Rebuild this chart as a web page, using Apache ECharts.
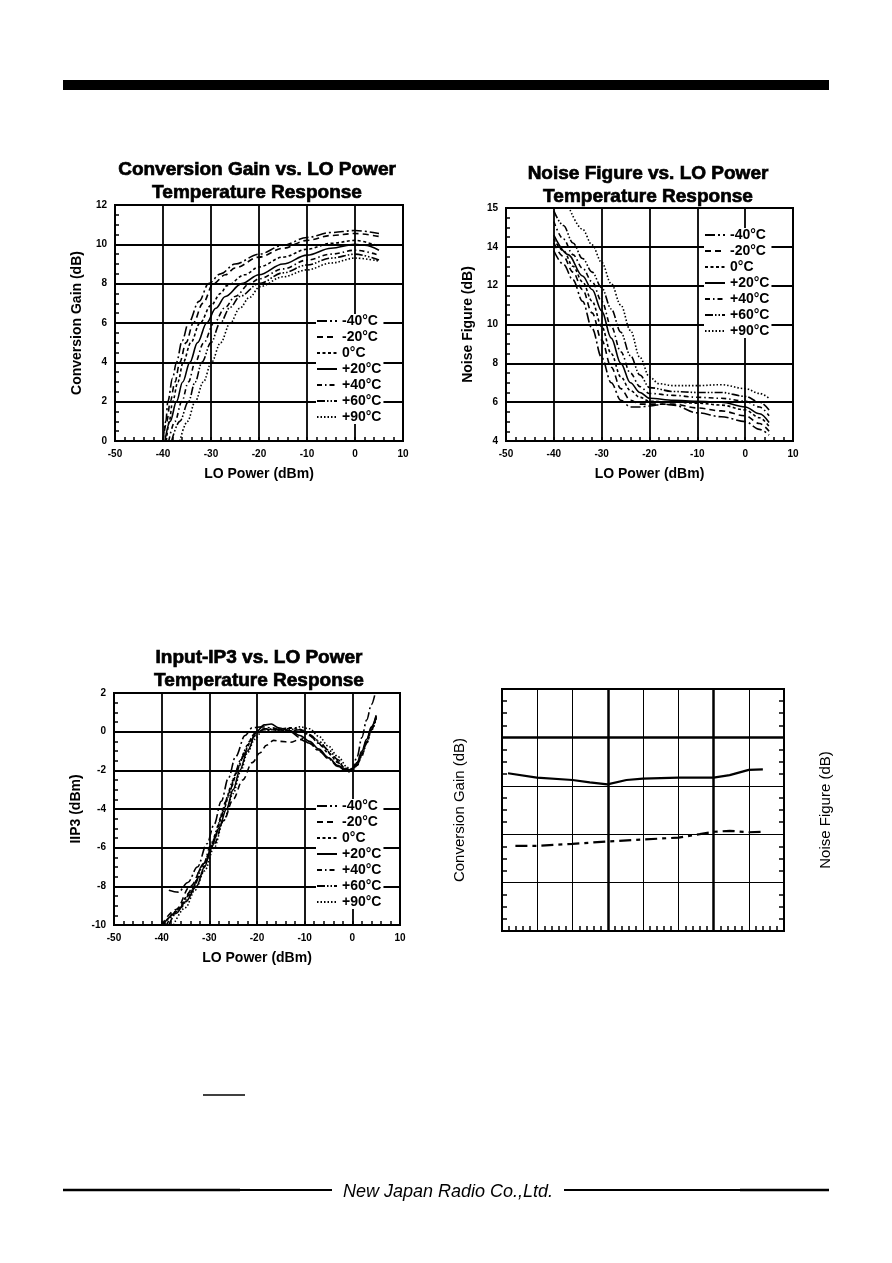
<!DOCTYPE html>
<html><head><meta charset="utf-8">
<script src="https://cdn.jsdelivr.net/npm/echarts@6/dist/echarts.min.js"></script>
<style>html,body{margin:0;padding:0;background:#fff}#c{width:892px;height:1263px}</style>
</head><body><div id="c"></div>
<script>
// ---------- DATA ----------
const tempNames = ['-40°C','-20°C','0°C','+20°C','+40°C','+60°C','+90°C'];
const xTickValues = [-50,-40,-30,-20,-10,0,10];
const nfTickValues = [4,6,8,10,12,14,16];
const nfTickLabels = ['4','6','8','10','12','14','15'];

// Conversion Gain vs LO Power [LO dBm, gain dB]
const cgM40 = [[-40,0],[-39.4,1],[-39,2],[-38,3.2],[-37.2,4],[-36,5.1],[-34.7,6],[-32.5,7.1],[-30.5,8],[-28,8.5],[-25,9.0],[-20,9.5],[-15,9.95],[-10,10.35],[-5,10.6],[0,10.7],[5,10.55]];
const cgM20 = [[-40,0],[-39.2,1],[-38.5,2],[-37.5,3],[-36.5,4],[-35.2,5],[-33.7,6],[-31.7,7],[-29.5,8],[-27,8.45],[-25,8.8],[-20,9.35],[-15,9.8],[-10,10.2],[-5,10.45],[0,10.55],[5,10.4]];
const cg0   = [[-39.3,0],[-38.7,1],[-38,2],[-36.9,3],[-35.8,4],[-34.2,5],[-32.3,6],[-30,6.9],[-28,7.5],[-26.7,7.9],[-23,8.45],[-20,8.85],[-15,9.35],[-10,9.75],[-5,10.05],[0,10.2],[5,9.9]];
const cgP20 = [[-39.6,0],[-38.5,1],[-37.2,2],[-35.9,3],[-34.4,4],[-32.8,5],[-30.9,6],[-29,6.75],[-27,7.35],[-23.6,8],[-20,8.45],[-15,9.0],[-10,9.45],[-5,9.8],[0,10.0],[2,9.95],[5,9.7]];
const cgP40 = [[-38.8,0],[-37.5,1],[-36.1,2],[-34.7,3],[-33.3,4],[-31.5,5],[-29.4,6],[-27,6.8],[-25,7.35],[-21.9,8],[-20,8.25],[-15,8.75],[-10,9.2],[-5,9.5],[0,9.7],[5,9.45]];
const cgP60 = [[-38.2,0],[-36.5,1],[-34.7,2],[-33.3,3],[-31.9,4],[-30,5],[-28.1,6],[-26,6.8],[-24,7.35],[-20,8.0],[-15,8.55],[-10,8.95],[-5,9.3],[0,9.5],[5,9.2]];
const cgP90 = [[-36.5,0],[-34.9,1],[-33.3,2],[-31.6,3],[-29.9,4],[-28,5],[-26,6],[-24,6.75],[-22,7.3],[-19.8,7.85],[-15,8.35],[-10,8.7],[-5,9.05],[0,9.3],[5,9.15]];

// Noise Figure vs LO Power [LO dBm, NF dB]
const nfM40 = [[-40,13.8],[-38,13.1],[-36,12.3],[-34,11.2],[-32,9.8],[-30,8.3],[-28,7.0],[-26,6.1],[-24,5.75],[-22,5.75],[-20,5.8],[-17,5.9],[-15,5.85],[-10,5.45],[-5,5.25],[0,5.0],[3,4.6],[5,4.3]];
const nfM20 = [[-40,14.2],[-38,13.5],[-36,12.7],[-34,11.8],[-32,10.6],[-30,9.2],[-28,7.8],[-26,6.7],[-24,6.1],[-22,5.9],[-20,5.9],[-15,5.9],[-10,5.7],[-5,5.55],[0,5.3],[3,4.9],[5,4.5]];
const nf0   = [[-40,14.4],[-38,13.8],[-36,13.0],[-34,12.2],[-32,11.2],[-30,9.9],[-28,8.5],[-26,7.3],[-24,6.6],[-22,6.25],[-20,6.05],[-15,6.0],[-10,5.95],[-5,5.85],[0,5.6],[3,5.2],[5,4.75]];
const nfP20 = [[-40,14.6],[-37,13.6],[-34,12.5],[-32,11.8],[-30,10.7],[-28,9.3],[-26,8.0],[-24,7.0],[-22,6.5],[-20,6.2],[-15,6.1],[-10,6.05],[-5,6.0],[0,5.75],[3,5.4],[5,4.95]];
const nfP40 = [[-40,15.3],[-38,14.4],[-36,13.6],[-34,12.9],[-32,12.2],[-30,11.2],[-28,9.9],[-26,8.6],[-24,7.5],[-22,6.8],[-20,6.45],[-15,6.35],[-10,6.25],[-5,6.2],[0,6.05],[3,5.75],[5,5.3]];
const nfP60 = [[-40,15.85],[-38,15.1],[-36,14.2],[-34,13.4],[-32,12.7],[-30,11.9],[-28,10.8],[-26,9.6],[-24,8.4],[-22,7.4],[-20,6.75],[-15,6.55],[-10,6.5],[-5,6.5],[0,6.3],[3,6.0],[5,5.6]];
const nfP90 = [[-36.6,15.9],[-34,14.9],[-32,14.1],[-30,13.2],[-28,12.1],[-26,11.0],[-24,9.7],[-22,8.3],[-20,7.3],[-18,6.95],[-15,6.85],[-10,6.85],[-5,6.9],[0,6.7],[3,6.45],[5,6.2]];

// Input IP3 vs LO Power [LO dBm, IIP3 dBm]
const ipM40 = [[-38.5,-8.2],[-36.5,-8.3],[-34.5,-7.8],[-32.5,-7.0],[-30.5,-5.8],[-29,-4.8],[-27.5,-3.6],[-26,-2.4],[-24.5,-1.3],[-22.5,-0.2],[-21,0.2],[-19,0.25],[-17,0.2],[-15,0.1],[-13,0],[-11,-0.3],[-9,-0.6],[-7,-1.0],[-5,-1.4],[-3,-1.8],[-1,-2.05],[0,-1.9],[1,-1.3],[2,-0.3],[3,0.6],[4,1.4],[4.8,2.0]];
const ipM20 = [[-40,-10],[-37,-9.2],[-34,-8],[-31,-6.8],[-29,-5.8],[-27,-4.6],[-25,-3.5],[-23,-2.5],[-21,-1.6],[-19.4,-1.1],[-18,-0.7],[-16.5,-0.45],[-15,-0.5],[-13,-0.55],[-11,-0.4],[-9,-0.6],[-7,-0.95],[-5,-1.35],[-3,-1.8],[-1,-2.1],[0,-2.0],[1,-1.7],[2,-1.1],[3,-0.5],[4,0.2],[5,0.8]];
const ip0   = [[-39.5,-10],[-37,-9.3],[-34.5,-8.5],[-32,-7.5],[-30,-6.3],[-28.5,-5.2],[-27,-4],[-25.5,-2.9],[-24,-1.9],[-22.5,-1],[-21,-0.3],[-19,0.1],[-17,0.1],[-15,0.15],[-13,0.2],[-11,0.1],[-9,-0.2],[-7,-0.6],[-5,-1.1],[-3,-1.6],[-1,-2.0],[0,-1.95],[1,-1.6],[2,-1.1],[3,-0.5],[4,0.15],[5,0.8]];
const ipP20 = [[-39.8,-10],[-37,-9.4],[-35,-8.8],[-32.7,-8],[-31,-7],[-29.6,-6],[-28,-5],[-26.4,-4],[-25,-3],[-23.6,-2],[-22,-1],[-20.1,0],[-18.5,0.35],[-17,0.4],[-15.5,0.2],[-13,0.05],[-11,-0.2],[-9,-0.5],[-7,-0.9],[-5,-1.35],[-3,-1.75],[-1,-2.05],[0,-1.95],[1,-1.6],[2,-1.0],[3,-0.4],[4,0.25],[5,0.85]];
const ipP40 = [[-39,-10],[-36.5,-9.2],[-34,-8.3],[-31.5,-7],[-29.5,-5.8],[-28,-4.8],[-26.5,-3.6],[-25,-2.5],[-23.5,-1.5],[-22,-0.7],[-20.5,-0.1],[-18.5,0.15],[-16,0.1],[-14,0.15],[-12,0.2],[-10,0.05],[-8,-0.35],[-6,-0.8],[-4,-1.3],[-2,-1.8],[-0.5,-2.05],[1,-1.75],[2,-1.2],[3,-0.6],[4,0.1],[5,0.75]];
const ipP60 = [[-38.5,-10],[-36,-9.1],[-33.5,-8.1],[-31,-6.8],[-29,-5.6],[-27.5,-4.4],[-26,-3.3],[-24.5,-2.2],[-23,-1.3],[-21.5,-0.5],[-20,0],[-18,0.15],[-16,0.1],[-13,0.05],[-11,0.1],[-9,-0.15],[-7,-0.5],[-5,-0.95],[-3,-1.45],[-1.5,-1.9],[0,-2.0],[1,-1.7],[2,-1.2],[3,-0.55],[4,0.1],[5,0.7]];
const ipP90 = [[-37.5,-10],[-35,-9.1],[-33,-8.2],[-31,-7.2],[-29,-6.0],[-27,-4.6],[-25,-3.2],[-23.5,-2.1],[-22,-1.1],[-20.5,-0.4],[-19,0],[-17,0.1],[-15,0.05],[-13,0.1],[-11,0.25],[-9,0.15],[-7,-0.25],[-5,-0.75],[-3,-1.3],[-1,-1.85],[0,-2.0],[1,-1.75],[2,-1.25],[3,-0.6],[4,0.05],[5,0.7]];

// Unlabeled sweep chart (grid units)
const sweepCG = [[0.17,3.26],[0.99,3.17],[2.0,3.12],[2.49,3.07],[2.99,3.03],[3.53,3.12],[4.0,3.15],[5.0,3.17],[6.0,3.17],[6.46,3.22],[7.0,3.33],[7.4,3.34]];
const sweepNF = [[0.38,1.76],[0.99,1.76],[2.0,1.80],[2.99,1.85],[4.0,1.89],[5.0,1.93],[5.61,2.0],[6.0,2.05],[6.46,2.07],[7.0,2.04],[7.4,2.05]];

// ---------- STYLE ----------
const FONT = '"Liberation Sans", Arial, sans-serif';
const DASH = [[10,3,2,3],[6,4],[3,2.5],'solid',[5,3,1.5,3],[8,2,1.5,2,1.5,2],[1.5,2]];

const chart = echarts.init(document.getElementById('c'), null, {renderer:'canvas'});

function tempSeries(datas, gi) {
  return datas.map((d, j) => ({
    type:'line', name:tempNames[j], xAxisIndex:gi, yAxisIndex:gi, data:d,
    symbol:'none', smooth:0.35, smoothMonotone:'x', z:3,
    lineStyle:{color:'#000', width:1.6, type:DASH[j]}, itemStyle:{color:'#000'}
  }));
}
function grid(l,t,w,h){ return {left:l, top:t, width:w, height:h, show:true, borderColor:'#000', borderWidth:2, containLabel:false}; }
function xAx(gi){
  return {gridIndex:gi, type:'value', min:-50, max:10, interval:10,
    name:'LO Power (dBm)', nameLocation:'middle', nameGap:26,
    nameTextStyle:{fontFamily:FONT, fontSize:14, fontWeight:'bold', color:'#000'},
    axisLine:{show:true, onZero:false, lineStyle:{color:'#000', width:2}},
    axisTick:{show:true, inside:true, length:4, lineStyle:{color:'#000', width:1.5}},
    minorTick:{show:true, splitNumber:5, length:4, lineStyle:{color:'#000', width:1.5}},
    splitLine:{show:true, lineStyle:{color:'#000', width:1.8}},
    axisLabel:{fontFamily:FONT, fontSize:10, fontWeight:'bold', color:'#000', margin:8}};
}
function yAx(gi, min, max, name, fmt){
  return {gridIndex:gi, type:'value', min, max, interval:2,
    name, nameLocation:'middle', nameGap:31,
    nameTextStyle:{fontFamily:FONT, fontSize:14, fontWeight:'bold', color:'#000'},
    axisLine:{show:true, onZero:false, lineStyle:{color:'#000', width:2}},
    axisTick:{show:true, inside:true, length:4, lineStyle:{color:'#000', width:1.5}},
    minorTick:{show:true, splitNumber:4, length:4, lineStyle:{color:'#000', width:1.5}},
    splitLine:{show:true, lineStyle:{color:'#000', width:1.8}},
    axisLabel:{fontFamily:FONT, fontSize:10, fontWeight:'bold', color:'#000', margin:8, formatter:fmt}};
}
function leg(left, top){
  return {left, top, orient:'vertical', padding:[0,2,0,0], itemGap:2, itemWidth:20, itemHeight:14,
    backgroundColor:'#fff', data:tempNames, selectedMode:false,
    itemStyle:{opacity:0},
    textStyle:{fontFamily:FONT, fontSize:14, fontWeight:'bold', color:'#000'}};
}
function ttl(x, y, text){
  return {text, left:x, top:y, textAlign:'center', padding:0,
    textStyle:{fontFamily:FONT, fontSize:19, fontWeight:'bold', color:'#000', lineHeight:23,
      textBorderColor:'#000', textBorderWidth:0.7}};
}

const option = {
  animation:false,
  backgroundColor:'#fff',
  title:[
    ttl(257,158,'Conversion Gain vs. LO Power\nTemperature Response'),
    ttl(648,162,'Noise Figure vs. LO Power\nTemperature Response'),
    ttl(259,646,'Input-IP3 vs. LO Power\nTemperature Response')
  ],
  legend:[ leg(316,314), leg(704,228), leg(316,799) ],
  grid:[ grid(115,205,288,236), grid(506,208,287,233), grid(114,693,286,232), grid(502,689,282,242) ],
  xAxis:[ xAx(0), xAx(1), xAx(2),
    {gridIndex:3, type:'value', min:0, max:8, interval:1,
     axisLine:{show:true, onZero:false, lineStyle:{color:'#000', width:2}},
     axisTick:{show:true, inside:true, length:0},
     minorTick:{show:true, splitNumber:5, length:5, lineStyle:{color:'#000', width:1.5}},
     splitLine:{show:true, lineStyle:{color:'#000', width:1}},
     axisLabel:{show:false}} ],
  yAxis:[
    yAx(0, 0, 12, 'Conversion Gain (dB)'),
    yAx(1, 4, 16, 'Noise Figure (dB)', v => nfTickLabels[nfTickValues.indexOf(v)]),
    yAx(2, -10, 2, 'IIP3 (dBm)'),
    {gridIndex:3, type:'value', min:0, max:5, interval:1,
     name:'Conversion Gain (dB)', nameLocation:'middle', nameGap:35,
     nameTextStyle:{fontFamily:FONT, fontSize:15, color:'#000'},
     axisLine:{show:true, onZero:false, lineStyle:{color:'#000', width:2}},
     axisTick:{show:true, inside:true, length:0},
     minorTick:{show:true, splitNumber:4, length:5, lineStyle:{color:'#000', width:1.5}},
     splitLine:{show:true, lineStyle:{color:'#000', width:1}},
     axisLabel:{show:false}},
    {gridIndex:3, type:'value', min:0, max:5, interval:1, position:'right',
     name:'Noise Figure (dB)', nameLocation:'middle', nameGap:34, nameRotate:90,
     nameTextStyle:{fontFamily:FONT, fontSize:15, color:'#000'},
     axisLine:{show:true, onZero:false, lineStyle:{color:'#000', width:2}},
     axisTick:{show:true, inside:true, length:0},
     minorTick:{show:true, splitNumber:4, length:5, lineStyle:{color:'#000', width:1.5}},
     splitLine:{show:false},
     axisLabel:{show:false}}
  ],
  series:[
    ...tempSeries([cgM40,cgM20,cg0,cgP20,cgP40,cgP60,cgP90], 0),
    ...tempSeries([nfM40,nfM20,nf0,nfP20,nfP40,nfP60,nfP90], 1),
    ...tempSeries([ipM40,ipM20,ip0,ipP20,ipP40,ipP60,ipP90], 2),
    {type:'line', name:'Conversion Gain', xAxisIndex:3, yAxisIndex:3, data:sweepCG, symbol:'none',
     lineStyle:{color:'#000', width:2.2},
     markLine:{silent:true, symbol:'none', label:{show:false},
       lineStyle:{color:'#000', width:2.5, type:'solid'},
       data:[{xAxis:3},{xAxis:6},{yAxis:4}]}},
    {type:'line', name:'Noise Figure', xAxisIndex:3, yAxisIndex:4, data:sweepNF, symbol:'none',
     lineStyle:{color:'#000', width:2.2, type:[12,5,4,5]}}
  ],
  graphic:[
    {type:'rect', shape:{x:63, y:80, width:766, height:10}, style:{fill:'#000'}},
    {type:'line', shape:{x1:63, y1:1190, x2:240, y2:1190}, style:{stroke:'#000', lineWidth:2.5}},
    {type:'line', shape:{x1:240, y1:1190, x2:332, y2:1190}, style:{stroke:'#000', lineWidth:1.8}},
    {type:'line', shape:{x1:564, y1:1190, x2:740, y2:1190}, style:{stroke:'#000', lineWidth:1.8}},
    {type:'line', shape:{x1:740, y1:1190, x2:829, y2:1190}, style:{stroke:'#000', lineWidth:2.5}},
    {type:'text', x:448, y:1192, style:{text:'New Japan Radio Co.,Ltd.', fill:'#000', align:'center', verticalAlign:'middle',
      font:'italic 18px "Liberation Sans", Arial, sans-serif'}},
    {type:'line', shape:{x1:203, y1:1095, x2:245, y2:1095}, style:{stroke:'#000', lineWidth:1.5}}
  ]
};
chart.setOption(option);
</script>
</body></html>
